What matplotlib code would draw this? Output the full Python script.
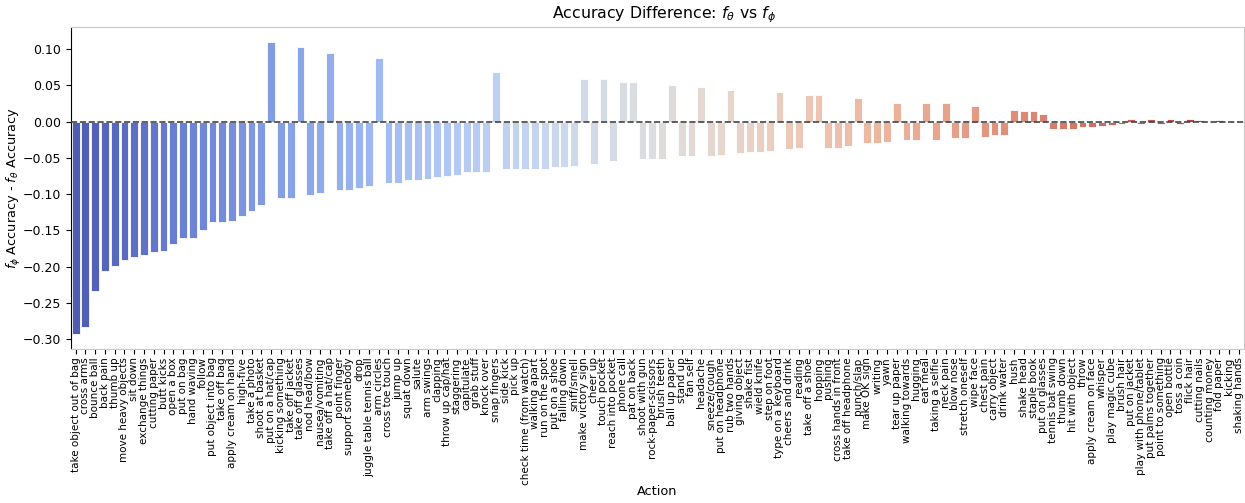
import matplotlib
matplotlib.use("Agg")
import matplotlib.pyplot as plt
import seaborn as sns

# per-action difference, already ordered by |difference|
actions = [
    "take object out of bag", "cross arms", "bounce ball", "back pain", "thumb up",
    "move heavy objects", "sit down", "exchange things", "cutting paper", "butt kicks",
    "open a box", "put on bag", "hand waving", "follow", "put object into bag",
    "take off bag", "apply cream on hand", "high-five", "take a photo", "shoot at basket",
    "put on a hat/cap", "kicking something", "take off jacket", "take off glasses", "nod head/bow",
    "nausea/vomiting", "take off a hat/cap", "point finger", "support somebody", "drop",
    "juggle table tennis ball", "arm circles", "cross toe touch", "jump up", "squat down",
    "salute", "arm swings", "clapping", "throw up cap/hat", "staggering",
    "capitulate", "grab stuff", "knock over", "snap fingers", "side kick",
    "pick up", "check time (from watch)", "walking apart", "run on the spot", "put on a shoe",
    "falling down", "sniff/smell", "make victory sign", "cheer up", "touch pocket",
    "reach into pocket", "phone call", "pat on back", "shoot with gun", "rock-paper-scissors",
    "brush teeth", "ball up paper", "stand up", "fan self", "headache",
    "sneeze/cough", "put on headphone", "rub two hands", "giving object", "shake fist",
    "wield knife", "step on foot", "type on a keyboard", "cheers and drink", "reading",
    "take off a shoe", "hopping", "pushing", "cross hands in front", "take off headphone",
    "punch/slap", "make OK sign", "writing", "yawn", "tear up paper",
    "walking towards", "hugging", "eat meal", "taking a selfie", "neck pain",
    "blow nose", "stretch oneself", "wipe face", "chest pain", "carry object",
    "drink water", "hush", "shake head", "staple book", "put on glasses",
    "tennis bat swing", "thumb down", "hit with object", "throw", "apply cream on face",
    "whisper", "play magic cube", "brush hair", "put on jacket", "play with phone/tablet",
    "put palms together", "point to something", "open bottle", "toss a coin", "flick hair",
    "cutting nails", "counting money", "fold paper", "kicking", "shaking hands",
]

acc_diff = [
    -0.293, -0.283, -0.234, -0.206, -0.199, -0.190, -0.187, -0.184, -0.180, -0.178,
    -0.169, -0.161, -0.160, -0.149, -0.139, -0.139, -0.137, -0.130, -0.123, -0.115,
    0.110, -0.105, -0.105, 0.102, -0.101, -0.098, 0.095, -0.094, -0.094, -0.091,
    -0.089, 0.087, -0.084, -0.084, -0.081, -0.080, -0.079, -0.077, -0.075, -0.073,
    -0.070, -0.070, -0.070, 0.068, -0.066, -0.066, -0.065, -0.065, -0.065, -0.062,
    -0.062, -0.061, 0.059, -0.058, 0.058, -0.055, 0.055, 0.055, -0.052, -0.052,
    -0.051, 0.050, -0.048, -0.047, 0.047, -0.047, -0.046, 0.043, -0.043, -0.042,
    -0.042, -0.040, 0.040, -0.038, -0.037, 0.036, 0.036, -0.036, -0.036, -0.033,
    0.033, -0.029, -0.029, -0.028, 0.026, -0.026, -0.026, 0.026, -0.025, 0.025,
    -0.023, -0.023, 0.022, -0.021, -0.019, -0.018, 0.016, 0.015, 0.014, 0.011,
    -0.010, -0.010, -0.010, -0.007, -0.007, -0.006, -0.0045, -0.003, 0.003, -0.003,
    0.003, -0.003, 0.003, -0.003, 0.003, 0.002, -0.001, 0.0015, 0.0, 0.0,
]

fig = plt.figure(figsize=(12.45, 5.03), dpi=100)
ax = fig.add_axes([0.0568, 0.3062, 0.9422, 0.6401])

sns.barplot(x=actions, y=acc_diff, hue=actions, palette="coolwarm", legend=False,
            edgecolor="white", linewidth=0.6, ax=ax)
ax.axhline(0, color="#444444", linestyle="--", linewidth=1.2, zorder=5)

ax.set_title(r"Accuracy Difference: $f_\theta$ vs $f_\phi$", fontsize=11.3, x=0.5055)
ax.set_xlabel("Action", fontsize=9.3, labelpad=0)
ax.set_ylabel(r"$f_\phi$ Accuracy - $f_\theta$ Accuracy", fontsize=9.3)
ax.yaxis.set_label_coords(-0.041, 0.5)
ax.tick_params(axis="x", labelrotation=90, labelsize=7.5, length=3.5, pad=2.5)
ax.tick_params(axis="y", labelsize=9, length=3.5)

for side in ["top", "right", "bottom"]:
    ax.spines[side].set_color("#c8c8c8")

fig.savefig("out.png", dpi=100)
